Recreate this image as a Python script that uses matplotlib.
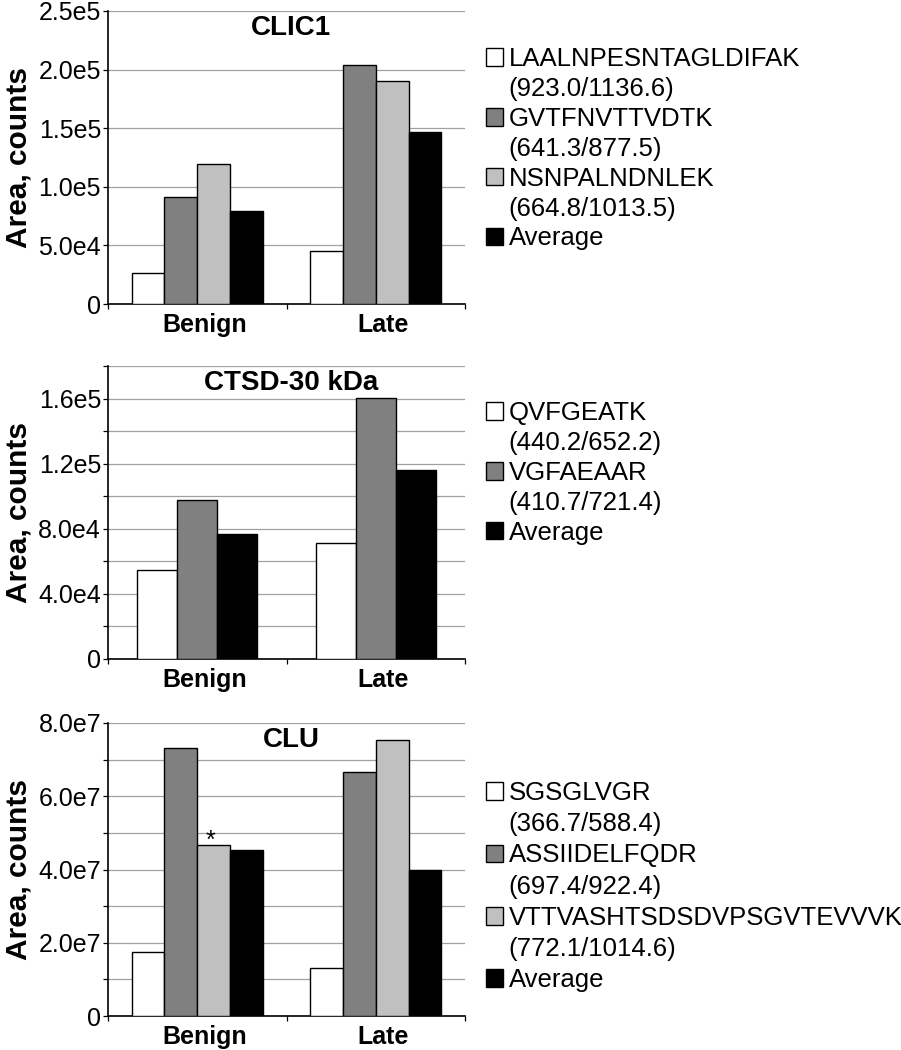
import matplotlib
matplotlib.use("Agg")
import matplotlib.pyplot as plt
import matplotlib.transforms as mtransforms
from matplotlib.patches import Patch
from matplotlib.ticker import FixedLocator, MultipleLocator

plt.rcParams["font.family"] = ["Liberation Sans", "DejaVu Sans"]

categories = ["Benign", "Late"]

clic1_names = ["LAALNPESNTAGLDIFAK", "GVTFNVTTVDTK", "NSNPALNDNLEK", "Average"]
clic1_mz = ["(923.0/1136.6)", "(641.3/877.5)", "(664.8/1013.5)", None]
clic1_values = [
    [26200, 45500],
    [91000, 204000],
    [119500, 190500],
    [79600, 147000],
]
clic1_ticks = [0, 5e4, 1e5, 1.5e5, 2e5, 2.5e5]
clic1_ticklabels = ["0", "5.0e4", "1.0e5", "1.5e5", "2.0e5", "2.5e5"]

ctsd_names = ["QVFGEATK", "VGFAEAAR", "Average"]
ctsd_mz = ["(440.2/652.2)", "(410.7/721.4)", None]
ctsd_values = [
    [54800, 71500],
    [97700, 160400],
    [76800, 116100],
]
ctsd_ticks = [0, 4e4, 8e4, 1.2e5, 1.6e5]
ctsd_ticklabels = ["0", "4.0e4", "8.0e4", "1.2e5", "1.6e5"]

clu_names = ["SGSGLVGR", "ASSIIDELFQDR", "VTTVASHTSDSDVPSGVTEVVVK", "Average"]
clu_mz = ["(366.7/588.4)", "(697.4/922.4)", "(772.1/1014.6)", None]
clu_values = [
    [1.74e7, 1.32e7],
    [7.32e7, 6.66e7],
    [4.68e7, 7.53e7],
    [4.53e7, 3.98e7],
]
clu_ticks = [0, 2e7, 4e7, 6e7, 8e7]
clu_ticklabels = ["0", "2.0e7", "4.0e7", "6.0e7", "8.0e7"]

COLORS4 = ["white", "#808080", "#c0c0c0", "black"]
COLORS3 = ["white", "#808080", "black"]


def draw_panel(fig, rect, title, names, mz, values, colors, group_width,
               ymax, ticks, ticklabels, minor_step, legend_top, spacing):
    ax = fig.add_axes(rect)
    n = len(values)
    w = group_width / n
    bars = []
    for i, vals in enumerate(values):
        xs = [c - group_width / 2 + w * (i + 0.5) for c in range(len(categories))]
        b = ax.bar(xs, vals, width=w, color=colors[i], edgecolor="black",
                   linewidth=1.0, zorder=3)
        bars.append(b)

    ax.set_xlim(-0.5, len(categories) - 0.5)
    ax.set_ylim(0, ymax)
    ax.set_axisbelow(True)

    ax.yaxis.set_major_locator(FixedLocator(ticks))
    ax.set_yticklabels(ticklabels)
    ax.yaxis.set_minor_locator(MultipleLocator(minor_step))
    ax.grid(axis="y", which="both", color="#a0a0a0", linewidth=0.9)
    ax.tick_params(axis="y", which="both", direction="out", length=3.5,
                   width=0.9, pad=1.5, labelsize=18)

    ax.set_xticks(range(len(categories)))
    ax.set_xticklabels(categories, fontweight="bold", fontsize=18)
    ax.set_xticks([-0.5, 0.5, 1.5], minor=True)
    ax.tick_params(axis="x", which="major", length=0, pad=6.5)
    ax.tick_params(axis="x", which="minor", direction="out", length=3.5,
                   width=0.9)
    # category labels sit a little right of the group centres
    shift = mtransforms.ScaledTranslation(7 / 100, 0, fig.dpi_scale_trans)
    for lab in ax.get_xticklabels():
        lab.set_transform(lab.get_transform() + shift)

    for side in ["top", "right"]:
        ax.spines[side].set_visible(False)
    for side in ["left", "bottom"]:
        ax.spines[side].set_linewidth(1.2)

    ax.set_ylabel("Area, counts", fontsize=21.5, fontweight="bold")
    ax.yaxis.set_label_coords(-0.211, 0.5)

    ax.text(0.513, 1 - 17 / 293, title, transform=ax.transAxes,
            ha="center", va="center", fontsize=20, fontweight="bold")

    handles = []
    labels = []
    blank = Patch(facecolor="none", edgecolor="none")
    for b, name, m in zip(bars, names, mz):
        handles.append(b)
        labels.append(name)
        if m is not None:
            handles.append(blank)
            labels.append(m)
    fig.legend(handles, labels, loc="upper left",
               bbox_to_anchor=(486 / 901, legend_top),
               frameon=False, fontsize=18.5, handlelength=0.68,
               handleheight=0.68, handletextpad=0.2, borderpad=0,
               borderaxespad=0, labelspacing=spacing)
    return ax


def main():
    fig = plt.figure(figsize=(9.01, 10.5), dpi=100)

    left = 108 / 901
    width = 357 / 901

    draw_panel(fig, [left, 1 - 304 / 1050, width, 293 / 1050], "CLIC1",
               clic1_names, clic1_mz, clic1_values, COLORS4, 0.735,
               2.5e5, clic1_ticks, clic1_ticklabels, 5e4, 1 - 47 / 1050, 0.23)

    draw_panel(fig, [left, 1 - 659 / 1050, width, 293 / 1050], "CTSD-30 kDa",
               ctsd_names, ctsd_mz, ctsd_values, COLORS3, 0.672,
               1.8e5, ctsd_ticks, ctsd_ticklabels, 2e4, 1 - 401 / 1050, 0.23)

    ax3 = draw_panel(fig, [left, 1 - 1016 / 1050, width, 293 / 1050], "CLU",
                     clu_names, clu_mz, clu_values, COLORS4, 0.735,
                     8e7, clu_ticks, clu_ticklabels, 1e7, 1 - 781 / 1050, 0.28)

    # significance mark over the third Benign bar
    n = len(clu_values)
    w = 0.735 / n
    x_star = 0 - 0.735 / 2 + w * 2.5
    ax3.annotate("*", xy=(x_star, clu_values[2][0]), xytext=(-2, -2),
                 textcoords="offset points", ha="center", va="baseline",
                 fontsize=18, zorder=4)

    fig.savefig("out.png", dpi=100)


if __name__ == "__main__":
    main()
